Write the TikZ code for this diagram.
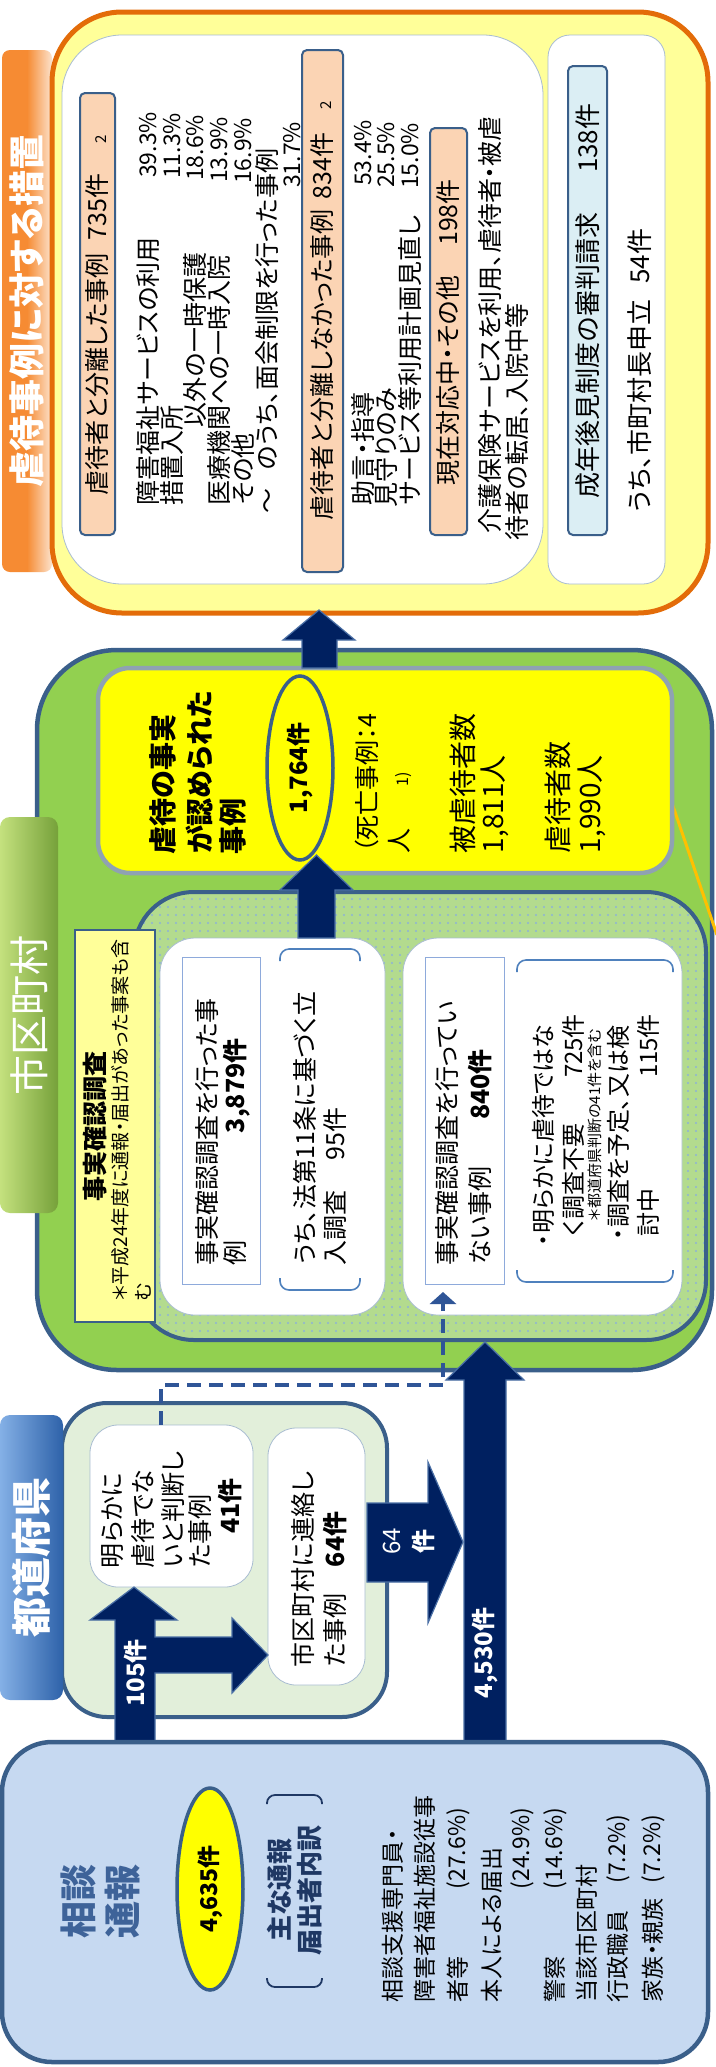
\documentclass[tikz,border=0pt]{standalone}
\usepackage{fontspec}
\setmainfont{Noto Sans CJK JP}[RawFeature=+palt]
\usetikzlibrary{arrows.meta,patterns.meta,calc,shapes.geometric}
\newcommand\fsz[1]{\fontsize{#1}{#1}\selectfont}
\newcommand\BX[6]{\node[#1, minimum width={(#5)-(#3)}, minimum height={(#6)-(#4)}] (#2) at ({((#3)+(#5))/2},{((#4)+(#6))/2}) {};}
\definecolor{bdr}{HTML}{3A5F8A}
\definecolor{orB}{HTML}{E36C09}
\definecolor{lightY}{HTML}{FFFF99}
\definecolor{peach}{HTML}{FBD4B4}
\definecolor{lblue}{HTML}{DBEEF4}
\definecolor{ggreen}{HTML}{92D050}
\definecolor{dotg}{HTML}{B3DB8E}
\definecolor{dotc}{HTML}{8DB3D6}
\definecolor{yel}{HTML}{FFFF00}
\definecolor{ybdr}{HTML}{8FA2B2}
\definecolor{wbdr}{HTML}{A9BDD1}
\definecolor{irb}{HTML}{8EAADB}
\definecolor{navy}{HTML}{002060}
\definecolor{arb}{HTML}{4A6FA5}
\definecolor{pgreen}{HTML}{E2EFDA}
\definecolor{sblue}{HTML}{C6D9F1}
\definecolor{tblue}{HTML}{3E6399}
\definecolor{dkblue}{HTML}{1F3864}
\definecolor{bktc}{HTML}{4F81BD}
\definecolor{dashc}{HTML}{2F5597}
\definecolor{orline}{HTML}{FFC000}
\definecolor{orT1}{HTML}{F68B33}
\definecolor{orT2}{HTML}{FCE3CD}
\definecolor{gT1}{HTML}{C4E17E}
\definecolor{gT2}{HTML}{76A13A}
\definecolor{bT1}{HTML}{84B0E6}
\definecolor{bT2}{HTML}{2E62A9}
\begin{document}
\begin{tikzpicture}[x=1pt,y=-1pt,
  bx/.style={rectangle,inner sep=0pt,outer sep=0pt},
  vt/.style={rotate=90,inner sep=0pt,outer sep=0pt,anchor=west,font=\fsz{25}},
  vc/.style={vt,anchor=center},
  ve/.style={vt,anchor=east},
  lab/.style={bx,draw=bdr,line width=2pt,fill=peach,rounded corners=5pt},
  wbox/.style={bx,draw=wbdr,line width=0.8pt,fill=white},
  irect/.style={bx,draw=irb,line width=1pt},
  blk/.style={fill=navy,draw=arb,line width=1.2pt,line join=miter},
  bkt/.style={draw=bktc,line width=1.6pt,rounded corners=9pt},
  pct/.style={ve,font=\fsz{23}}
]
\path[use as bounding box,fill=white] (0,0) rectangle (715,2067);

% ===== top: measures =====
\BX{bx,rounded corners=8pt,left color=orT1,right color=orT2,middle color=orT1}{tabO}{2}{50}{52}{572}
\node[vc,font=\bfseries\fsz{36},text=white] (tabOt) at (27,311) {虐待事例に対する措置};
\BX{bx,draw=orB,line width=5pt,fill=lightY,rounded corners=70pt}{oBox}{52}{12}{708}{613}
\BX{wbox,rounded corners=60pt}{wBig}{62}{35}{543}{584}
\BX{wbox,rounded corners=22pt}{wSmall}{548}{35}{665}{584}
\BX{lab}{lab1}{80}{93}{115}{535}
\BX{lab}{lab2}{302}{50}{343}{572}
\BX{lab}{lab3}{430}{128}{467}{535}
\BX{lab,fill=lblue}{lab4}{568}{66}{607}{535}

\node[vt] (l1t) at (97.5,495) {虐待者と分離した事例\hspace{13pt}735件\hspace{30pt}{\fsz{15}2}};
\node[vt] (m1) at (148,505) {障害福祉サービスの利用};
\node[pct] (p1) at (148,112) {39.3\%};
\node[vt] (m2) at (172,505) {措置入所};
\node[pct] (p2) at (172,113) {11.3\%};
\node[vt] (m3) at (195,427) {以外の一時保護};
\node[pct] (p3) at (195,115) {18.6\%};
\node[vt] (m4) at (219,505) {医療機関への一時入院};
\node[pct] (p4) at (219,117) {13.9\%};
\node[vt] (m5) at (243,505) {その他};
\node[pct] (p5) at (243,118) {16.9\%};
\node[vt] (m6) at (267,513) {～\hspace{18pt}のうち、面会制限を行った事例};
\node[pct] (p6) at (292,122) {31.7\%};

\node[vt] (l2t) at (322.5,520) {虐待者と分離しなかった事例\hspace{10pt}834件\hspace{23pt}{\fsz{15}2}};
\node[vt] (n1) at (363,505) {助言・指導};
\node[pct] (q1) at (363,120) {53.4\%};
\node[vt] (n2) at (386,507) {見守りのみ};
\node[pct] (q2) at (386,122) {25.5\%};
\node[vt] (n3) at (410,505) {サービス等利用計画見直し};
\node[pct] (q3) at (410,123) {15.0\%};

\node[vt] (l3t) at (448.5,485) {現在対応中・その他\hspace{30pt}198件};
\node[vt] (o1) at (490,533) {介護保険サービスを利用、虐待者・被虐};
\node[vt] (o2) at (517,540) {待者の転居、入院中等};

\node[vt,font=\fsz{26}] (l4t) at (587.5,498) {成年後見制度の審判請求\hspace{40pt}138件};
\node[vt,font=\fsz{26}] (r1) at (640,513) {うち、市町村長申立\hspace{16pt}54件};

% ===== municipality =====
\BX{bx,draw=bdr,line width=4.5pt,fill=ggreen,rounded corners=80pt}{gBox}{37}{650}{712}{1370}
\draw[orline,line width=3pt] (660,768) -- (717,935);
\BX{bx,draw=bdr,line width=4pt,preaction={fill=dotg},pattern={Dots[distance=8pt,radius=1.1pt]},pattern color=dotc,rounded corners=60pt}{dBox}{134}{892}{706}{1340}
\BX{bx,draw=ybdr,line width=4.5pt,fill=yel,rounded corners=32pt}{yBox}{98}{668}{672}{873}
\node[ellipse,rotate=90,draw=bdr,line width=3.5pt,fill=yel,minimum width=184pt,minimum height=66pt,inner sep=0pt,font=\bfseries\fsz{24}] (ell1) at (300,768) {1,764件};
\BX{bx,rounded corners=10pt,left color=gT1,right color=gT2}{tabG}{0}{817}{58}{1213}
\node[vc,font=\fsz{40},text=white] (tabGt) at (29,1015) {市区町村};

\node[vt,font=\bfseries\fsz{28}] (y1) at (163,854) {虐待の事実};
\node[vt,font=\bfseries\fsz{28}] (y2) at (200,854) {が認められた};
\node[vt,font=\bfseries\fsz{28}] (y3) at (233,854) {事例};
\node[vt] (d1) at (367,853) {（死亡事例：4};
\node[vt] (d2) at (400,853) {人\hspace{42pt}{\fsz{16}1)}};
\node[vt,font=\fsz{28}] (h1) at (463,853) {被虐待者数};
\node[vt,font=\fsz{28}] (h2) at (495,853) {1,811人};
\node[vt,font=\fsz{28}] (k1) at (558,853) {虐待者数};
\node[vt,font=\fsz{28}] (k2) at (592,853) {1,990人};

\BX{bx,draw=bdr,line width=2.5pt,fill=lightY}{fLab}{75}{930}{155}{1322}
\node[vc,font=\bfseries\fsz{25}] (fLt) at (95,1126) {事実確認調査};
\node[vt,font=\fsz{19}] (fn1) at (120,1301) {＊平成24年度に通報・届出があった事案も含};
\node[vt,font=\fsz{19}] (fn2) at (143,1301) {む};

\BX{wbox,rounded corners=35pt}{wb1}{160}{938}{385}{1315}
\BX{wbox,rounded corners=35pt}{wb2}{403}{938}{682}{1315}
\BX{irect}{ir1}{182}{957}{260}{1284}
\BX{irect}{ir2}{425}{957}{504}{1284}
\draw[bkt] (280,961) -- (280,949) -- (360,949) -- (360,961);
\draw[bkt] (280,1278) -- (280,1290) -- (360,1290) -- (360,1278);
\draw[bkt] (517,972) -- (517,960) -- (673,960) -- (673,972);
\draw[bkt] (517,1270) -- (517,1282) -- (673,1282) -- (673,1270);

\node[vt] (e1) at (207,1265) {事実確認調査を行った事};
\node[vt] (e2) at (237,1265) {\makebox[132pt][l]{例}\textbf{3,879件}};
\node[vt] (e3) at (305,1265) {うち、法第11条に基づく立};
\node[vt] (e4) at (335,1265) {入調査\hspace{30pt}95件};
\node[vt] (g1) at (447,1265) {事実確認調査を行ってい};
\node[vt] (g2) at (480,1265) {ない事例\hspace{47pt}\textbf{840件}};
\node[vt,font=\fsz{24}] (g3) at (543,1246) {・明らかに虐待ではな};
\node[vt,font=\fsz{24}] (g4) at (573,1236) {く調査不要};
\node[ve,font=\fsz{24}] (g5) at (573,1014) {725件};
\node[vt,font=\fsz{15}] (g6) at (595,1221) {＊都道府県判断の41件を含む};
\node[vt,font=\fsz{24}] (g7) at (618,1240) {・調査を予定、又は検};
\node[vt,font=\fsz{24}] (g8) at (648,1236) {討中};
\node[ve,font=\fsz{24}] (g9) at (648,1014) {115件};

% block arrows inside the municipality and to the measures
\draw[blk] (302,668) -- (302,640) -- (283,640) -- (319,610) -- (355,640) -- (337,640) -- (337,668) -- cycle;
\draw[blk] (298,938) -- (298,890) -- (280,890) -- (316.5,855) -- (353,890) -- (335,890) -- (335,938) -- cycle;

% ===== prefecture =====
\BX{bx,draw=bdr,line width=4pt,fill=pgreen,rounded corners=45pt}{pBox}{62}{1403}{387}{1717}
\BX{bx,rounded corners=10pt,left color=bT1,right color=bT2}{tabP}{0}{1415}{63}{1700}
\node[vc,font=\bfseries\fsz{40},text=white] (tabPt) at (31.5,1557) {都道府県};
\BX{wbox,rounded corners=28pt}{boxA}{90}{1425}{253}{1587}
\BX{wbox,rounded corners=28pt}{boxB}{268}{1428}{365}{1685}
\node[vt] (a1) at (113,1568) {明らかに};
\node[vt] (a2) at (143,1568) {虐待でな};
\node[vt] (a3) at (173,1568) {いと判断し};
\node[vt] (a4) at (200,1568) {た事例};
\node[ve,font=\bfseries\fsz{25}] (a5) at (230,1478) {41件};
\node[vt] (b1) at (303,1667) {市区町村に連絡し};
\node[vt] (b2) at (335,1667) {た事例};
\node[vt,font=\bfseries\fsz{25}] (b3) at (335,1567) {64件};

% arrows from consultation
\draw[blk] (115,1742) -- (115,1620) -- (90,1620) -- (134,1587) -- (177,1620) -- (155,1620) -- (155,1637) -- (232,1637) -- (232,1618) -- (268,1655) -- (232,1693) -- (232,1673) -- (155,1673) -- (155,1742) -- cycle;
\node[vc,font=\bfseries\fsz{24},text=white] (w105) at (135,1673) {105件};
\draw[blk] (367,1503) -- (428,1503) -- (428,1462) -- (463,1542) -- (428,1623) -- (428,1582) -- (367,1582) -- cycle;
\node[vc,font=\fsz{24},text=white] (w64a) at (392,1541) {64};
\node[vc,font=\bfseries\fsz{24},text=white] (w64b) at (423,1541) {件};
\draw[blk] (464,1742) -- (464,1380) -- (446,1380) -- (485,1342) -- (524,1380) -- (506,1380) -- (506,1742) -- cycle;
\node[vc,font=\bfseries\fsz{24},text=white] (w4530) at (485,1653) {4,530件};

% dashed connector
\coordinate (dCorner) at (443,1385);
\coordinate (dTip) at (443,1292);
\draw[dashc,line width=3.5pt,dash pattern=on 14pt off 8pt,-{Triangle[width=26pt,length=12pt]}] ($(boxA.north)+(-10.5,0)$) |- (dCorner) -- (dTip);

% ===== consultation / report =====
\BX{bx,draw=bdr,line width=4.5pt,fill=sblue,rounded corners=50pt}{sBox}{2}{1742}{708}{2062}
\node[vc,font=\bfseries\fsz{37},text=tblue] (s1) at (78,1901) {相談};
\node[vc,font=\bfseries\fsz{37},text=tblue] (s2) at (123,1901) {通報};
\node[ellipse,rotate=90,draw=bdr,line width=3.5pt,fill=yel,minimum width=202pt,minimum height=66pt,inner sep=0pt,font=\bfseries\fsz{23}] (ell2) at (210,1889) {4,635件};
\node[vc,font=\bfseries\fsz{26},text=dkblue] (s3) at (280,1890) {主な通報};
\node[vc,font=\bfseries\fsz{26},text=dkblue] (s4) at (310,1890) {届出者内訳};
\draw[draw=dkblue,line width=1.8pt,rounded corners=8pt] (267,1804) -- (267,1795) -- (322,1795) -- (322,1804);
\draw[draw=dkblue,line width=1.8pt,rounded corners=8pt] (267,1978) -- (267,1987) -- (322,1987) -- (322,1978);
\node[vt,font=\fsz{23}] (c1) at (393,2002) {相談支援専門員・};
\node[vt,font=\fsz{23}] (c2) at (425,2002) {障害者福祉施設従事};
\node[vt,font=\fsz{23}] (c3) at (458,2002) {者等};
\node[pct] (c3p) at (458,1808) {(27.6\%)};
\node[vt,font=\fsz{23}] (c4) at (492,2002) {本人による届出};
\node[pct] (c5p) at (522,1808) {(24.9\%)};
\node[vt,font=\fsz{23}] (c6) at (555,2002) {警察};
\node[pct] (c6p) at (555,1808) {(14.6\%)};
\node[vt,font=\fsz{23}] (c7) at (587,2002) {当該市区町村};
\node[vt,font=\fsz{23}] (c8) at (618,2002) {行政職員};
\node[pct] (c8p) at (618,1815) {(7.2\%)};
\node[vt,font=\fsz{23}] (c9) at (653,2002) {家族・親族};
\node[pct] (c9p) at (653,1815) {(7.2\%)};
\end{tikzpicture}
\end{document}
